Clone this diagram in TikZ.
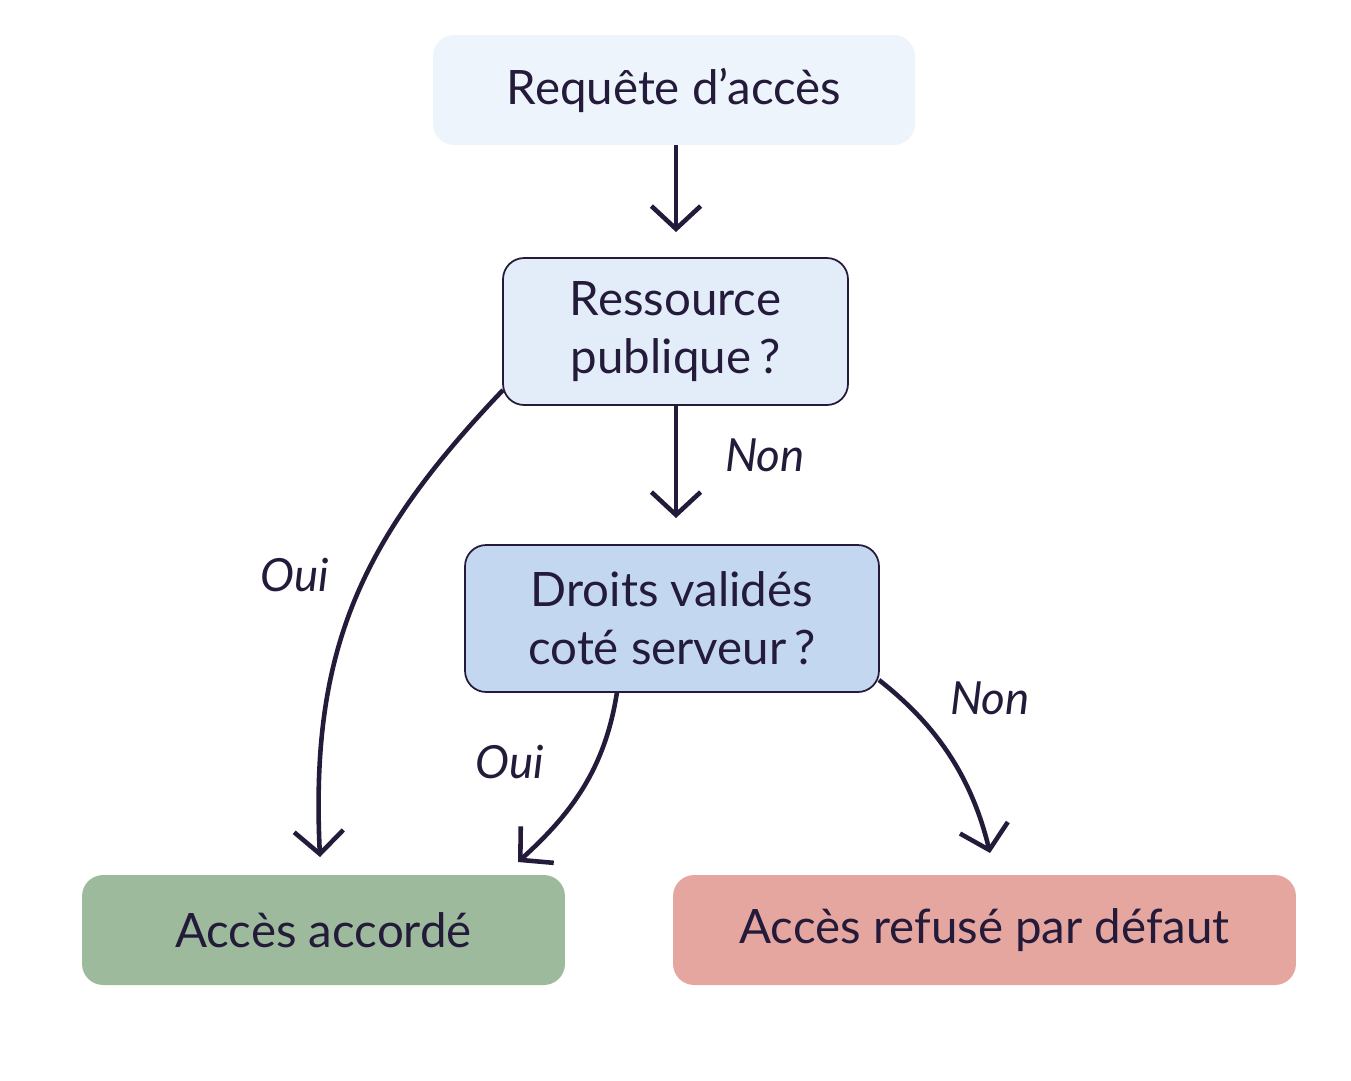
\documentclass[tikz,border=0pt]{standalone}
\usepackage{fontspec}
\setmainfont{Lato}
\usetikzlibrary{arrows.meta}
\definecolor{ink}{HTML}{241A3A}
\definecolor{c1}{HTML}{EEF4FB}
\definecolor{c2}{HTML}{E3ECF9}
\definecolor{c3}{HTML}{C3D7F0}
\definecolor{c4}{HTML}{9DBB9C}
\definecolor{c5}{HTML}{E6A6A0}
\begin{document}
\begin{tikzpicture}[x=0.02cm,y=-0.02cm,
 box/.style={rounded corners=12pt,inner sep=0pt,text=ink,font=\fontsize{27}{33}\selectfont,align=center},
 arr/.style={draw=ink,line width=2.6pt,-{Straight Barb[length=13pt,width=28pt,line width=2.6pt]}},
 lab/.style={text=ink,font=\fontsize{26}{30}\selectfont\itshape}]
\useasboundingbox (0,0) rectangle (1351,1080);
\node[box,fill=c1,minimum width=9.64cm,minimum height=2.2cm] (req) at (674,90) {Requête d’accès};
\node[box,fill=c2,draw=ink,line width=1pt,minimum width=6.9cm,minimum height=2.94cm] (res) at (675.5,331.5) {Ressource\\publique\,?};
\node[box,fill=c3,draw=ink,line width=1pt,minimum width=8.28cm,minimum height=2.94cm] (dro) at (672,618.5) {Droits validés\\coté serveur\,?};
\node[box,fill=c4,minimum width=9.66cm,minimum height=2.2cm] (acc) at (323.5,930) {Accès accordé};
\node[box,fill=c5,minimum width=12.46cm,minimum height=2.2cm] (ref) at (984.5,930) {Accès refusé par défaut};
\coordinate (a1) at (676,145); \coordinate (a2) at (676,232);
\draw[arr] (a1) -- (a2);
\coordinate (b1) at (676,405); \coordinate (b2) at (676,518);
\draw[arr] (b1) -- (b2);
\node[lab] (n1) at (765,455) {Non};
\coordinate (k1) at (503,390); \coordinate (k2) at (320,857);
\draw[arr] (k1) .. controls (360,540) and (310,650) .. (k2);
\node[lab] (o1) at (295,575) {Oui};
\coordinate (d1) at (617,692); \coordinate (d2) at (518,862);
\draw[arr] (d1) .. controls (605,770) and (570,815) .. (d2);
\node[lab] (o2) at (510,762) {Oui};
\coordinate (e1) at (879,680); \coordinate (e2) at (990,853);
\draw[arr] (e1) .. controls (930,720) and (970,770) .. (e2);
\node[lab] (n2) at (990,698) {Non};
\end{tikzpicture}
\end{document}
